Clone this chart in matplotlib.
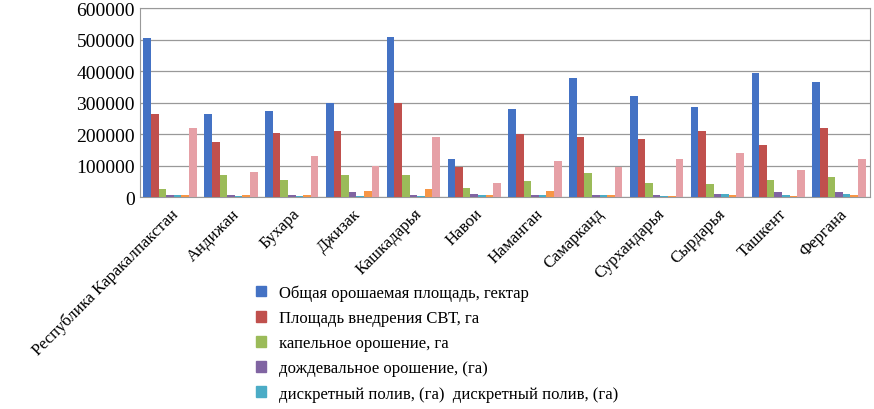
import matplotlib.pyplot as plt
import numpy as np

regions = ["Республика Каракалпакстан", "Андижан", "Бухара", "Джизак", "Кашкадарья", "Навои",
           "Наманган", "Самарканд", "Сурхандарья", "Сырдарья", "Ташкент", "Фергана"]
total = [505000, 265000, 275000, 300000, 510000, 120000, 280000, 380000, 320000, 285000, 395000, 365000]
svt = [265000, 175000, 205000, 210000, 300000, 95000, 200000, 190000, 185000, 210000, 165000, 220000]
drip = [25000, 70000, 55000, 70000, 70000, 30000, 50000, 75000, 45000, 40000, 55000, 65000]
sprinkler = [8000, 5000, 5000, 15000, 5000, 10000, 5000, 5000, 5000, 10000, 15000, 15000]
discrete = [5000, 3000, 3000, 3000, 3000, 5000, 5000, 5000, 3000, 10000, 5000, 10000]
other = [8000, 5000, 5000, 20000, 25000, 5000, 20000, 5000, 3000, 5000, 3000, 5000]
other2 = [220000, 80000, 130000, 100000, 190000, 45000, 115000, 95000, 120000, 140000, 85000, 120000]

series = [total, svt, drip, sprinkler, discrete, other, other2]
colors = ["#4472C4", "#C0504D", "#9BBB59", "#8064A2", "#4BACC6", "#F79646", "#E6A0A6"]
labels = ["Общая орошаемая площадь, гектар", "Площадь внедрения СВТ, га", "капельное орошение, га",
          "дождевальное орошение, (га)", "дискретный полив, (га)  дискретный полив, (га)"]

plt.rcParams["font.family"] = ["Liberation Serif", "DejaVu Serif"]
fig = plt.figure(figsize=(8.74, 4.10), dpi=100)
ax = fig.add_axes([0.16, 0.517, 0.835, 0.46])

x = np.arange(len(regions))
w = 0.125
for i, (vals, c) in enumerate(zip(series, colors)):
    ax.bar(x - 0.44 + w * i + w / 2, vals, w, color=c, edgecolor="none", zorder=3)

ax.set_xlim(-0.5, len(regions) - 0.5)
ax.set_ylim(0, 600000)
ax.set_yticks(range(0, 600001, 100000))
ax.tick_params(axis="y", labelsize=14, length=0)
ax.yaxis.grid(True, color="#999999", lw=0.9, zorder=0)
ax.set_xticks(x)
ax.set_xticklabels(regions, rotation=45, ha="right", rotation_mode="anchor", fontsize=12)
ax.tick_params(axis="x", length=0, pad=6)
for s in ["top", "right", "left", "bottom"]:
    ax.spines[s].set_color("#999999")

handles = [plt.Rectangle((0, 0), 1, 1, color=c) for c in colors[:5]]
fig.legend(handles, labels, loc="upper left", bbox_to_anchor=(0.285, 0.32), frameon=False,
           fontsize=12, handlelength=0.6, handleheight=0.6, labelspacing=0.55, borderaxespad=0)

fig.savefig("out.png")
